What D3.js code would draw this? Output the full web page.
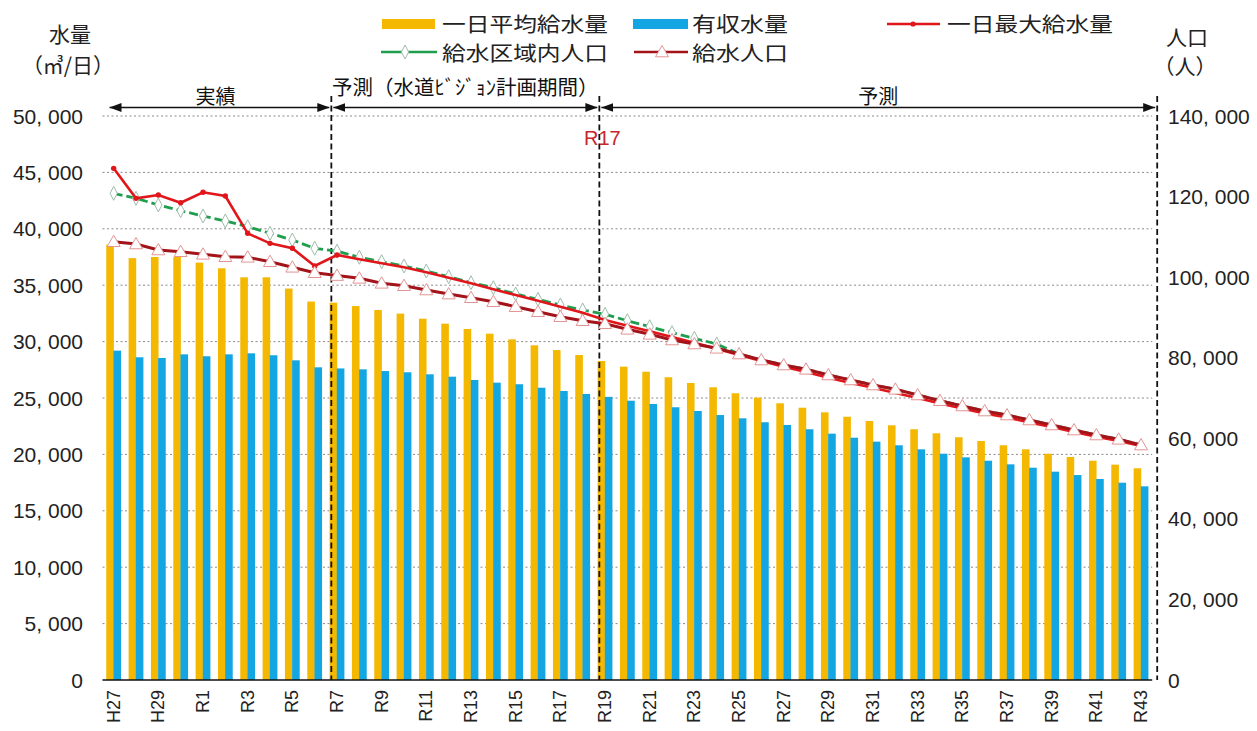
<!DOCTYPE html>
<html><head><meta charset="utf-8">
<script src="https://cdn.jsdelivr.net/npm/d3@7"></script>
<style>body{margin:0;background:#fff} svg{display:block}</style>
</head><body><svg id="c" width="1257" height="731"></svg>
<script>
const categories = ["H27","H28","H29","H30"].concat(d3.range(1,44).map(i=>"R"+i));
const avgSupply = [38600,37400,37500,37500,37000,36500,35700,35700,34700,33550,33450,33150,32800,32480,32030,31590,31120,30700,30200,29670,29250,28810,28280,27780,27330,26840,26330,25950,25420,25030,24530,24140,23730,23340,22960,22580,22230,21870,21520,21190,20810,20450,20060,19770,19440,19090,18770];
const revenueWater = [29200,28610,28550,28870,28700,28870,28960,28790,28340,27720,27620,27540,27390,27280,27100,26890,26600,26360,26220,25910,25620,25360,25100,24760,24470,24180,23850,23490,23200,22850,22610,22230,21840,21480,21130,20810,20450,20060,19740,19440,19120,18820,18470,18170,17820,17490,17170];
const maxSupply = [45360,42700,43000,42310,43240,42910,39600,38710,38270,36700,37680,37300,36940,36590,36140,35670,35170,34640,34130,33630,33090,32560,31920,31410,30910,30410,29900,29370,28810,28280,27780,27310,26800,26330,25910,25440,25000,24510,24070,23630,23270,22830,22430,21990,21570,21190,20750];
const areaPopulation = [120800,119570,117910,116490,115180,113940,112520,110890,109220,107160,106450,104930,103840,102770,101530,100110,98620,97380,95820,94500,93090,91850,90780,89190,87700,86210,84820,83400,80920,79430,78190,77130,75710,74470,73230,72160,70750,69330,68020,66770,65780,64540,63300,62060,60820,59750,58330];
const servedPopulation = [108800,108230,106740,106320,105670,105080,104930,103840,102450,101110,100400,99710,98470,97880,96810,95800,94900,93910,92670,91420,90180,89190,88450,87060,85810,84400,83410,82340,80920,79430,78190,77130,75710,74470,73230,72160,70750,69330,68020,66770,65780,64540,63300,62060,60820,59750,58330];
const leftTicks = [0,5000,10000,15000,20000,25000,30000,35000,40000,45000,50000];
const rightTicks = [0,20000,40000,60000,80000,100000,120000,140000];
const xTickLabels = categories.filter((d,i)=>i%2===0);
const dividerCats = ["R7","R19"];
const periodLabels = ["実績","予測（水道ﾋﾞｼﾞｮﾝ計画期間）","予測"];
const seriesNames = ["一日平均給水量","有収水量","一日最大給水量","給水区域内人口","給水人口"];

const C = {yellow:"#f5b800", blue:"#13a6e3", red:"#e0161b", dark:"#a3141a", green:"#1f9e4e"};
const JP = "'Noto Sans CJK JP','Noto Sans',sans-serif";
const NUM = "'Liberation Sans',Arial,sans-serif";
const svg = d3.select("#c");
svg.append("rect").attr("width",1257).attr("height",731).attr("fill","#fff");

const X0=102.5, X1=1152.2, YB=680, YT=116;
const x = d3.scaleBand().domain(categories).range([X0,X1]);
const step = x.bandwidth();
const cx = d => x(d)+step/2;
const yL = d3.scaleLinear().domain([0,50000]).range([YB,YT]);
const yR = d3.scaleLinear().domain([0,140000]).range([YB,YT]);
const fmt = v => d3.format(",")(v).replace(/,/g,", ");

// gridlines
svg.append("g").selectAll("line").data(leftTicks.filter(t=>t>0)).join("line")
  .attr("x1",X0).attr("x2",X1).attr("y1",d=>yL(d)).attr("y2",d=>yL(d))
  .attr("stroke","#8a8a8a").attr("stroke-width",1).attr("stroke-dasharray","2,2.5");

// bars
const bw = 7.6;
svg.append("g").selectAll("rect").data(categories).join("rect")
  .attr("x",(d)=>cx(d)-bw+0.2).attr("width",bw)
  .attr("y",(d,i)=>yL(avgSupply[i])).attr("height",(d,i)=>YB-yL(avgSupply[i]))
  .attr("fill",C.yellow);
svg.append("g").selectAll("rect").data(categories).join("rect")
  .attr("x",(d)=>cx(d)-0.2).attr("width",bw)
  .attr("y",(d,i)=>yL(revenueWater[i])).attr("height",(d,i)=>YB-yL(revenueWater[i]))
  .attr("fill",C.blue);

// baseline
svg.append("line").attr("x1",X0).attr("x2",X1).attr("y1",YB).attr("y2",YB)
  .attr("stroke","#111").attr("stroke-width",1.5);

// divider dashed lines
const divX = dividerCats.map(c=>x(c)+5.5).concat([X1+5]);
svg.append("g").selectAll("line").data(divX).join("line")
  .attr("x1",d=>d).attr("x2",d=>d).attr("y1",96).attr("y2",YB)
  .attr("stroke","#111").attr("stroke-width",1.8).attr("stroke-dasharray","6,3.5");

// arrows
const defs = svg.append("defs");
defs.append("marker").attr("id","ah").attr("viewBox","0 0 12 10").attr("refX",12).attr("refY",5)
  .attr("markerWidth",12).attr("markerHeight",10).attr("markerUnits","userSpaceOnUse")
  .attr("orient","auto-start-reverse")
  .append("path").attr("d","M0,0.5 L12,5 L0,9.5 Z").attr("fill","#111");
const bounds = [X0+7].concat(divX);
const AY = 107.5;
const periodLabelY = [97,88,97];
periodLabels.forEach((lab,i)=>{
  const a = bounds[i]+(i>0?2:0), b = bounds[i+1]-2;
  svg.append("line").attr("x1",a).attr("x2",b).attr("y1",AY).attr("y2",AY)
    .attr("stroke","#111").attr("stroke-width",1.6)
    .attr("marker-start","url(#ah)").attr("marker-end","url(#ah)");
  svg.append("text").attr("x",(a+b)/2 - (i===0?4:0)).attr("y",periodLabelY[i]).attr("dy","0.35em")
    .attr("text-anchor","middle").attr("font-family",JP).attr("font-size",i===1?20.5:20).attr("fill","#111").text(lab);
});
svg.append("text").attr("x",divX[1]+3).attr("y",138).attr("dy","0.35em").attr("text-anchor","middle")
  .attr("font-family",NUM).attr("font-size",20).attr("fill","#c8262a").text("R17");

// lines
const lineL = d3.line().x((d,i)=>cx(categories[i])).y(d=>yL(d));
const lineR = d3.line().x((d,i)=>cx(categories[i])).y(d=>yR(d));
svg.append("path").attr("d",lineR(areaPopulation)).attr("fill","none")
  .attr("stroke",C.green).attr("stroke-width",2.8).attr("stroke-dasharray","9,4");
svg.append("g").selectAll("path").data(areaPopulation.slice(0,28)).join("path")
  .attr("d",d3.symbol(d3.symbolDiamond,56)())
  .attr("transform",(d,i)=>`translate(${cx(categories[i])},${yR(d)}) scale(0.9,1)`)
  .attr("fill","#fff").attr("stroke","#9ab8a4").attr("stroke-width",1);
svg.append("path").attr("d",lineL(maxSupply)).attr("fill","none")
  .attr("stroke",C.red).attr("stroke-width",2.6);
svg.append("g").selectAll("circle").data(maxSupply.slice(0,11)).join("circle")
  .attr("cx",(d,i)=>cx(categories[i])).attr("cy",d=>yL(d)).attr("r",2.7).attr("fill",C.red);
svg.append("path").attr("d",lineR(servedPopulation)).attr("fill","none")
  .attr("stroke",C.dark).attr("stroke-width",3);
const tri = "M0,-6.5 L6.5,4.8 L-6.5,4.8 Z";
svg.append("g").selectAll("path").data(servedPopulation).join("path")
  .attr("d",tri).attr("transform",(d,i)=>`translate(${cx(categories[i])},${yR(d)})`)
  .attr("fill","#fff").attr("stroke","#e39494").attr("stroke-width",1);

// axis labels
svg.append("g").selectAll("text").data(leftTicks).join("text")
  .attr("x",83).attr("y",d=>yL(d)).attr("dy","0.36em").attr("text-anchor","end")
  .attr("font-family",NUM).attr("font-size",21).attr("fill","#222").text(fmt);
svg.append("g").selectAll("text").data(rightTicks).join("text")
  .attr("x",1168).attr("y",d=>yR(d)).attr("dy","0.36em").attr("text-anchor","start")
  .attr("font-family",NUM).attr("font-size",21).attr("fill","#222").text(fmt);
svg.append("g").selectAll("text").data(xTickLabels).join("text")
  .attr("transform",d=>`translate(${cx(d)+6},690) rotate(-90)`)
  .attr("text-anchor","end").attr("font-family",NUM).attr("font-size",18).attr("fill","#222").text(d=>d);

// axis titles
const title = (t,xx,yy)=>svg.append("text").attr("x",xx).attr("y",yy).attr("dy","0.35em")
  .attr("text-anchor","middle").attr("font-family",JP).attr("font-size",21).attr("fill","#222").text(t);
title("水量",70,35); title("（㎥/日）",68,66);
title("人口",1187,38); title("（人）",1185,67);

// legend
const L = svg.append("g").attr("font-family",JP).attr("font-size",20.5).attr("fill","#222");
const r1 = 24, r2 = 54;
const legText = (t,xx,yy,len)=>L.append("text").attr("x",xx).attr("y",yy).attr("dy","0.35em")
  .attr("textLength",len).attr("lengthAdjust","spacingAndGlyphs").text(t);
L.append("rect").attr("x",382).attr("y",r1-5).attr("width",53).attr("height",10).attr("fill",C.yellow);
legText(seriesNames[0],442,r1+1,166);
L.append("rect").attr("x",633).attr("y",r1-5).attr("width",55).attr("height",10).attr("fill",C.blue);
legText(seriesNames[1],692,r1+1,96);
L.append("line").attr("x1",887).attr("x2",940).attr("y1",r1).attr("y2",r1).attr("stroke",C.red).attr("stroke-width",2.4);
L.append("circle").attr("cx",913).attr("cy",r1).attr("r",2.6).attr("fill",C.red);
legText(seriesNames[2],947,r1+1,166);
L.append("line").attr("x1",381).attr("x2",437).attr("y1",r2-2).attr("y2",r2-2).attr("stroke",C.green).attr("stroke-width",2.6);
L.append("path").attr("d",d3.symbol(d3.symbolDiamond,56)()).attr("transform",`translate(405,${r2-2}) scale(0.9,1)`)
  .attr("fill","#fff").attr("stroke","#9ab8a4");
legText(seriesNames[3],442,r2,166);
L.append("line").attr("x1",634).attr("x2",688).attr("y1",r2-2).attr("y2",r2-2).attr("stroke",C.dark).attr("stroke-width",2.6);
L.append("path").attr("d",tri).attr("transform",`translate(662,${r2-2})`).attr("fill","#fff").attr("stroke","#e39494");
legText(seriesNames[4],692,r2,96);
</script></body></html>
